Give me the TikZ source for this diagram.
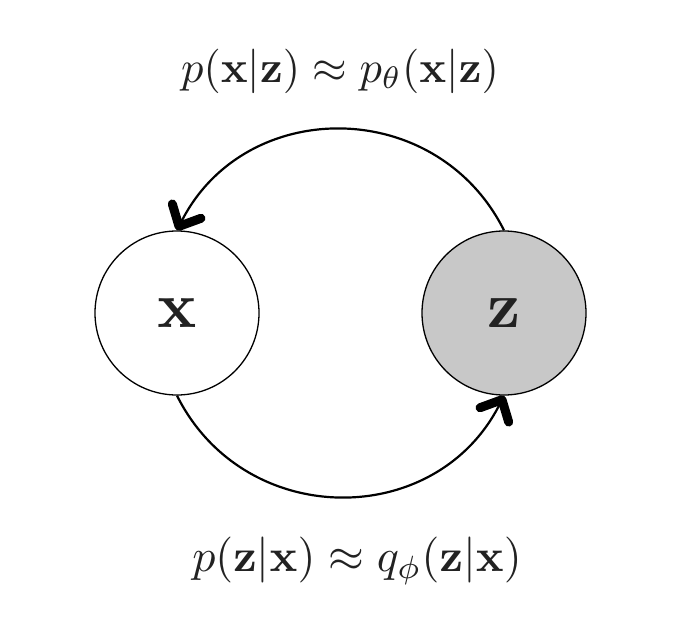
\documentclass[tikz,border=0pt]{standalone}
\usepackage{amsmath}
\usetikzlibrary{arrows.meta}
\definecolor{zfill}{HTML}{C8C8C8}
\definecolor{ink}{HTML}{222222}
\begin{document}
\begin{tikzpicture}[x=1pt,y=-1pt,
  var/.style={circle,draw=black,line width=1.3pt,minimum size=164pt,inner sep=0pt,
    text=ink},
  conn/.style={line width=2.2pt,-{Straight Barb[length=17pt,width=32pt,line width=9pt,round]}},
  lab/.style={text=ink}]
\useasboundingbox (0,0) rectangle (674,626);
\node[var] (x) at (177,313) {\scalebox{6.5}{$\mathbf{x}$}};
\node[var,fill=zfill] (z) at (504,313) {\scalebox{6.5}{$\mathbf{z}$}};
\draw[conn] (z.north) to[out=116.6,in=63.4,looseness=1.18] (x.north);
\draw[conn] (x.south) to[out=-63.4,in=-116.6,looseness=1.18] (z.south);
\node[lab] (top) at (340,71) {\scalebox{4.45}{$p(\mathbf{x}|\mathbf{z}) \approx p_\theta(\mathbf{x}|\mathbf{z})$}};
\node[lab] (bot) at (357,561) {\scalebox{4.6}{$p(\mathbf{z}|\mathbf{x}) \approx q_\phi(\mathbf{z}|\mathbf{x})$}};
\end{tikzpicture}
\end{document}
